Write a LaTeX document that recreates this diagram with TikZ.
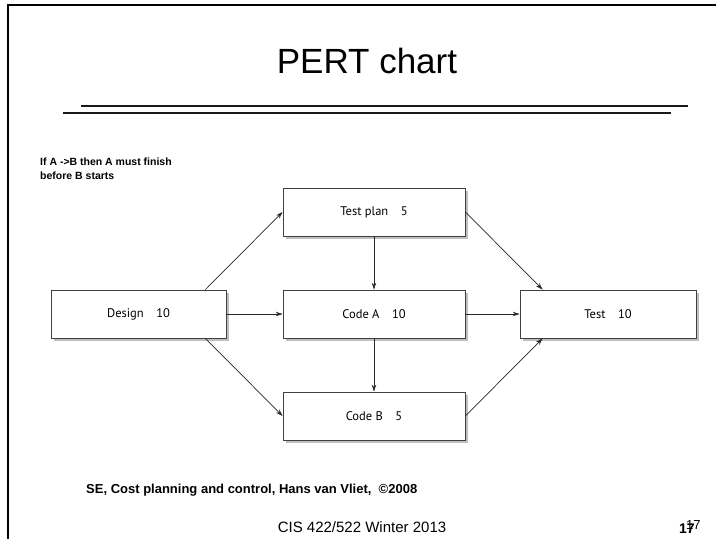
\documentclass[tikz,border=0pt]{standalone}
\usepackage{fontspec}
\setmainfont{Liberation Sans}
\newfontfamily\boxfont{PT Sans}
\usetikzlibrary{arrows.meta,shadows,calc}
\tikzset{
  task/.style={draw=black!75, line width=0.8pt, fill=white, rectangle,
    minimum height=48pt, inner sep=0pt,
    drop shadow={shadow xshift=3pt, shadow yshift=-3pt, fill=black!25, opacity=1},
    font=\boxfont\fontsize{12.5}{14}\selectfont},
  dep/.style={line width=0.7pt, draw=black!85, -{Stealth[length=7pt,width=4.5pt]}},
  rule/.style={line width=1.4pt, draw=black!90},
  frame/.style={line width=2.4pt, draw=black}
}
\begin{document}
\begin{tikzpicture}[x=1pt,y=-1pt]
\useasboundingbox (0,0) rectangle (716,539);
% slide frame
\draw[frame] (8,539) -- (8,5) -- (716,5);
% title
\node[anchor=base, inner sep=0pt, font=\fontsize{35}{40}\selectfont] (title) at (367,73) {PERT chart};
\draw[rule] (81,106) -- (688,106);
\draw[rule] (63,113) -- (671,113);
% note
\node[anchor=north west, inner sep=0pt, align=left, font=\bfseries\fontsize{10.5}{13.5}\selectfont] (note) at (40,158) {If A ->B then A must finish\\before B starts};
% tasks
\node[task, minimum width=182pt] (tp) at (374,212) {Test plan\quad 5};
\node[task, minimum width=175pt] (design) at (138.5,314) {Design\quad 10};
\node[task, minimum width=182pt] (codea) at (374,314) {Code A\quad 10};
\node[task, minimum width=176pt] (test) at (608,314) {Test\quad 10};
\node[task, minimum width=182pt] (codeb) at (374,416) {Code B\quad 5};
% connection points
\coordinate (dtop) at ($(design.north east)+(-21,0)$);
\coordinate (dbot) at ($(design.south east)+(-21,0)$);
\coordinate (ttop) at ($(test.north west)+(23,0)$);
\coordinate (tbot) at ($(test.south west)+(23,0)$);
\draw[dep] (dtop) -- (tp.west);
\draw[dep] (design.east) -- (codea.west);
\draw[dep] (dbot) -- (codeb.west);
\draw[dep] (tp.south) -- (codea.north);
\draw[dep] (codea.south) -- (codeb.north);
\draw[dep] (tp.east) -- (ttop);
\draw[dep] (codea.east) -- (test.west);
\draw[dep] (codeb.east) -- (tbot);
% footer
\node[anchor=base west, inner sep=0pt, font=\bfseries\fontsize{13}{15}\selectfont] (src) at (86,493) {SE, Cost planning and control, Hans van Vliet,\ \ \textcopyright2008};
\node[anchor=base, inner sep=0pt, font=\fontsize{15}{17}\selectfont] (course) at (362,532) {CIS 422/522 Winter 2013};
\node[anchor=base west, inner sep=0pt, font=\bfseries\fontsize{14}{16}\selectfont] (pgA) at (679,533) {17};
\node[anchor=base west, inner sep=0pt, font=\fontsize{13}{15}\selectfont] (pgB) at (686,529) {17};
\end{tikzpicture}
\end{document}
